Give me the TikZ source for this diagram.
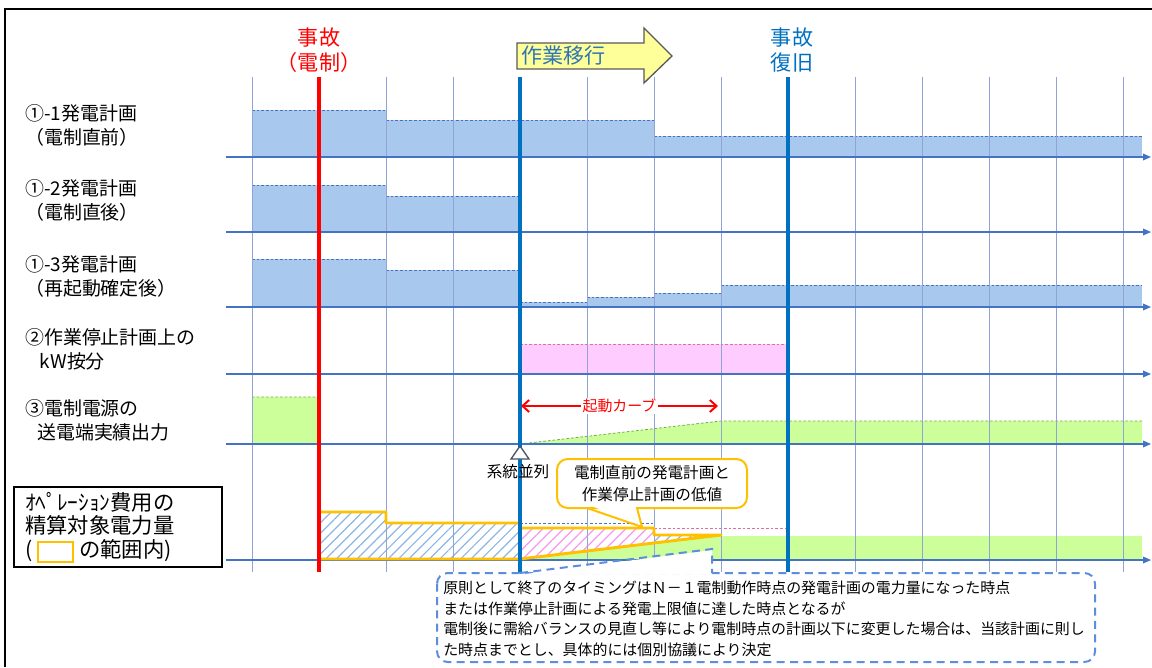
\documentclass[tikz,border=0pt]{standalone}
\usepackage{fontspec}
\setmainfont{Noto Sans CJK JP}
\usetikzlibrary{arrows.meta,patterns.meta}

\definecolor{gridline}{RGB}{143,164,212}
\definecolor{axisblue}{RGB}{68,114,196}
\definecolor{planblue}{RGB}{169,200,238}
\definecolor{kwpink}{RGB}{255,204,255}
\definecolor{kwedge}{RGB}{225,110,160}
\definecolor{outgreen}{RGB}{204,255,153}
\definecolor{outedge}{RGB}{112,173,71}
\definecolor{tripred}{RGB}{255,0,0}
\definecolor{moveblue}{RGB}{0,112,192}
\definecolor{headblue}{RGB}{46,117,182}
\definecolor{rangeorange}{RGB}{255,192,0}
\definecolor{notedash}{RGB}{91,142,220}
\definecolor{shiftyellow}{RGB}{255,255,153}
\definecolor{hatchblue}{RGB}{140,182,228}
\definecolor{hatchpink}{RGB}{248,150,240}
\definecolor{markgray}{RGB}{68,84,106}

\tikzset{
  topline/.style={dash pattern=on 2pt off 1.5pt, line width=0.6pt},
  axis/.style={axisblue, line width=0.9pt, -{Triangle[length=6pt,width=5pt]}},
  event/.style={line width=2.3pt},
  lbl/.style={anchor=west, align=left, inner sep=0pt, font=\fontsize{14.2}{18}\selectfont},
  head/.style={align=center, inner sep=0pt, font=\fontsize{15.8}{18.5}\selectfont},
  hatch/.style={pattern={Lines[angle=45,distance=5.5pt,line width=0.9pt]}},
}

\begin{document}
\begin{tikzpicture}[x=0.75pt,y=-0.75pt]
\useasboundingbox (0,0) rectangle (1152,667);
% frame
\draw[line width=1.6pt] (5,667) -- (5,9) -- (1152,9);

% row 1: plan before trip
\fill[planblue] (252,110) rectangle (386,157);
\fill[planblue] (386,120) rectangle (654,157);
\fill[planblue] (654,136) rectangle (1142,157);
\draw[topline,axisblue] (252,110) -- (386,110) (386,120) -- (654,120) (654,136) -- (1142,136);
% row 2: plan after trip
\fill[planblue] (252,185) rectangle (386,232);
\fill[planblue] (386,196) rectangle (520,232);
\draw[topline,axisblue] (252,185) -- (386,185) (386,196) -- (520,196);
% row 3: plan after restart
\fill[planblue] (252,259) rectangle (386,307);
\fill[planblue] (386,270) rectangle (520,307);
\fill[planblue] (520,302) rectangle (587,307);
\fill[planblue] (587,297) rectangle (654,307);
\fill[planblue] (654,293) rectangle (721,307);
\fill[planblue] (721,285) rectangle (1142,307);
\draw[topline,axisblue] (252,259) -- (386,259) (386,270) -- (520,270) (520,302) -- (587,302)
  (587,297) -- (654,297) (654,293) -- (721,293) (721,285) -- (1142,285);
% row 4: kW share
\fill[kwpink] (520,344) rectangle (788,374);
\draw[topline,kwedge] (520,344) -- (788,344);
% row 5: actual output
\fill[outgreen] (252,397) rectangle (319,444);
\fill[outgreen] (520,444) -- (721,421) -- (1142,421) -- (1142,444) -- cycle;
\draw[topline,outedge] (252,397) -- (319,397) (520,444) -- (721,421) -- (1142,421);
% row 6: settlement range
\fill[outgreen] (520,560) -- (721,536) -- (1142,536) -- (1142,560) -- cycle;
\fill[hatch,pattern color=hatchblue] (319,560) -- (319,512) -- (386,512) -- (386,523) -- (520,523) -- (520,560) -- cycle;
\fill[hatch,pattern color=hatchpink] (520,560) -- (520,528) -- (654,528) -- (654,543) -- cycle;
\fill[hatch,pattern color=hatchblue] (654,535) -- (721,535) -- (654,543) -- cycle;
\draw[topline,axisblue] (520,523) -- (654,523);
\draw[topline,kwedge] (654,528) -- (788,528);

% grid and axes
\foreach \x in {252,319,...,1123}
  \draw[gridline,line width=0.7pt] (\x,77) -- (\x,572);
\foreach \y in {157,232,307,374,444,560}
  \draw[axis] (226,\y) -- (1151,\y);

\draw[rangeorange,line width=2.2pt,line join=round] (319,559) -- (319,512) -- (386,512) -- (386,523) -- (520,523)
  -- (520,528) -- (654,528) -- (654,535) -- (721,535) -- (520,559) -- cycle;

% events
\draw[event,tripred] (319,77) -- (319,572);
\draw[event,moveblue] (520,77) -- (520,573);
\draw[event,moveblue] (788,77) -- (788,572);
\node[head,text=tripred] (trip) at (319,50) {事故\\（電制）};
\node[head,text=moveblue] (restore) at (792,50) {事故\\復旧};
\draw[fill=shiftyellow,draw=black!65,line width=1pt] (517,43) -- (644,43) -- (644,28) -- (672,56)
  -- (644,83) -- (644,69) -- (517,69) -- cycle;
\node[anchor=west,inner sep=0pt,text=headblue,font=\fontsize{15.8}{18}\selectfont] (shift) at (521,56) {作業移行};

% start curve
\coordinate (cstart) at (521,406);
\coordinate (cend) at (718,406);
\draw[tripred,line width=1.5pt,{Straight Barb[length=5pt,width=9pt]}-{Straight Barb[length=5pt,width=9pt]}]
  (cstart) -- node[fill=white,inner sep=1pt,font=\fontsize{11.2}{13}\selectfont] (curve) {起動カーブ} (cend);

% parallel-in mark
\draw[draw=markgray,fill=white,line width=1pt] (520,446) -- (529,459) -- (511,459) -- cycle;
\node[font=\fontsize{11.7}{14}\selectfont,inner sep=0pt] (para) at (518,472) {系統並列};

% row labels
\node[lbl] (plan1) at (25,125) {①-1発電計画\\（電制直前）};
\node[lbl] (plan2) at (25,200) {①-2発電計画\\（電制直後）};
\node[lbl] (plan3) at (25,276) {①-3発電計画\\（再起動確定後）};
\node[lbl] (kwshare) at (25,349) {②作業停止計画上の\\\hspace*{11pt}kW按分};
\node[lbl] (actual) at (25,420) {③電制電源の\\\hspace*{9pt}送電端実績出力};

% cost box
\node[draw=black,line width=2.2pt,minimum width=156pt,minimum height=60pt] (costbox) at (118,527) {};
\node[anchor=west,align=left,inner sep=0pt,font=\fontsize{16}{17.6}\selectfont] (costtxt) at (25,527)
  {\resizebox{112pt}{\height}{ｵﾍﾟﾚｰｼｮﾝ費用の}\\精算対象電力量\\(\hspace{35pt}の範囲内)};
\draw[rangeorange,line width=1.5pt] (38,542) rectangle (73,562);

% callout
\node[draw=rangeorange,fill=white,line width=1.5pt,rounded corners=8pt,minimum width=142.5pt,minimum height=36.75pt,
  align=center,font=\fontsize{11.7}{16.5}\selectfont] (lowcall) at (652,483.5) {電制直前の発電計画と\\作業停止計画の低値};
\fill[white] (589,505) -- (635,505) -- (641,525) -- cycle;
\draw[rangeorange,line width=1.5pt,line join=round] (587,508) -- (642,527) -- (637,508);

% note
\draw[notedash,line width=1.5pt,dash pattern=on 6pt off 4pt,fill=white,rounded corners=8pt] (437,573) rectangle (1095,662);
\fill[white] (521,574.5) -- (712,550) -- (712,574.5) -- cycle;
\draw[notedash,line width=1.5pt,dash pattern=on 6pt off 4pt] (520,573) -- (712,549) -- (712,573);
\node[anchor=west,align=left,inner sep=0pt,font=\fontsize{11.2}{15.5}\selectfont] (endnote) at (443,619)
  {原則として終了のタイミングはＮ－１電制動作時点の発電計画の電力量になった時点\\
   または作業停止計画による発電上限値に達した時点となるが\\
   電制後に需給バランスの見直し等により電制時点の計画以下に変更した場合は、当該計画に則し\\
   た時点までとし、具体的には個別協議により決定};
\end{tikzpicture}
\end{document}
